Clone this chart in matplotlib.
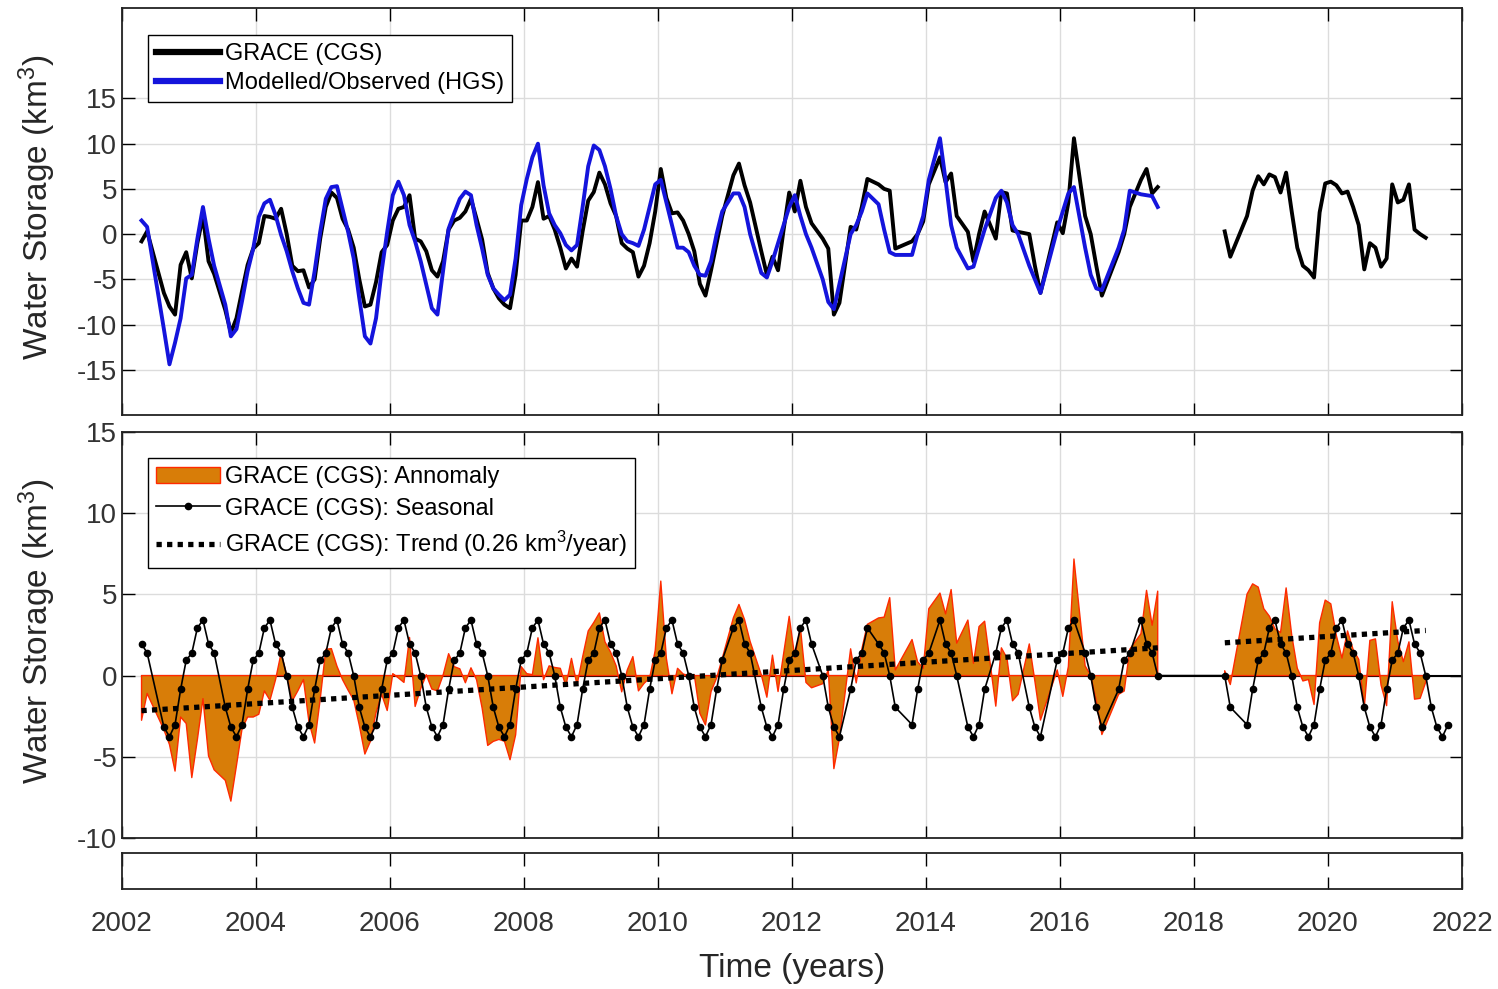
import numpy as np
import matplotlib
matplotlib.use("Agg")
import matplotlib.pyplot as plt

plt.rcParams['font.family'] = ['Liberation Sans', 'DejaVu Sans']
plt.rcParams['mathtext.default'] = 'regular'
plt.rcParams['axes.unicode_minus'] = False

nan = np.nan

# GRACE (CGS) monthly storage, km3, rows = years, cols = Jan..Dec (nan = no data)
years_a = np.arange(2002, 2018)
grace_a = [
    [nan, nan, nan, -0.8, 0.3, nan, nan, -6.5, -8.0, -8.9, -3.4, -2.0],   # 2002
    [-4.9, -1.0, 2.0, -3.0, -4.4, nan, -8.4, -10.9, -9.3, -6.3, -3.4, -1.6],
    [-1.0, 2.0, 1.9, 1.7, 2.8, 0.0, -3.5, -4.1, -4.0, -5.9, -5.0, -0.5],
    [3.0, 4.6, 4.0, 1.7, 0.5, -1.5, -5.0, -8.0, -7.8, -5.3, -2.0, -1.2],
    [1.5, 2.8, 3.0, 4.3, -0.5, -0.8, -1.9, -4.0, -4.7, -3.0, 0.5, 1.5],
    [1.8, 2.5, 3.9, 1.7, -0.6, -4.3, -6.0, -7.1, -7.8, -8.2, -4.5, 1.5],
    [1.5, 3.0, 5.75, 1.7, 2.0, 0.5, -1.5, -3.8, -2.7, -3.6, 0.3, 3.7],
    [4.65, 6.8, 5.5, 3.4, 2.0, -1.0, -1.6, -2.0, -4.7, -3.5, -1.0, 2.5],
    [7.2, 4.0, 2.3, 2.4, 1.5, 0.0, -1.9, -5.5, -6.8, -4.0, -1.0, 2.0],
    [nan, 6.5, 7.8, 5.4, 3.5, nan, -1.9, -4.5, -2.5, -4.0, 0.5, 4.6],
    [2.5, 5.9, 3.0, 1.2, nan, -0.5, -1.6, -8.9, -7.6, nan, 0.8, 0.5],
    [3.0, 6.1, nan, 5.5, 5.0, 4.8, -1.6, nan, nan, -0.8, 0.0, 1.4],
    [5.5, nan, 8.5, 5.75, 6.7, 2.0, nan, 0.25, -3.0, 0.0, 2.5, nan],
    [-0.5, 4.65, 4.5, 0.4, 0.25, nan, 0.0, -3.5, -6.5, nan, nan, 1.3],
    [0.1, 3.5, 10.6, nan, 2.0, 0.0, -3.5, -6.8, nan, nan, -2.0, 0.0],
    [3.0, nan, 6.0, 7.2, 4.5, 5.2, nan, nan, nan, nan, nan, nan],     # 2017
]
hgs_a = [
    [nan, nan, nan, 1.5, 0.8, nan, nan, -10.5, -14.4, -12.0, -9.3, -4.9],
    [-4.5, -0.5, 3.0, -0.5, -3.5, nan, -7.8, -11.3, -10.5, -7.4, -4.1, -1.6],
    [1.9, 3.4, 3.8, 2.1, -0.1, -1.9, -4.1, -6.0, -7.6, -7.8, -4.1, 0.25],
    [3.9, 5.2, 5.3, 2.8, 0.25, -2.7, -7.1, -11.3, -12.1, -9.3, -4.1, 0.25],
    [4.3, 5.8, 4.3, 1.0, -0.8, -3.0, -5.6, -8.2, -8.9, -4.1, 0.6, 2.3],
    [3.9, 4.7, 4.3, 1.0, -1.6, -4.5, -6.0, -6.7, -7.3, -6.7, -2.7, 3.2],
    [6.1, 8.5, 10.0, 5.4, 2.3, 1.0, 0.1, -1.2, -1.8, -1.2, 3.0, 7.5],
    [9.8, 9.3, 7.5, 5.0, 2.0, 0.0, -0.8, -1.0, -1.3, 0.5, 3.0, 5.5],
    [6.0, 3.5, 1.0, -1.5, -1.5, -2.0, -3.5, -4.5, -4.6, -3.0, 0.0, 2.5],
    [nan, 4.5, 4.5, 3.0, 0.0, nan, -4.3, -4.8, -3.0, -1.0, 1.0, 3.0],
    [4.3, 2.0, 0.0, -1.5, nan, -5.0, -7.5, -8.3, -5.5, nan, 0.0, 1.0],
    [2.5, 4.5, nan, 3.3, 0.5, -2.0, -2.3, nan, nan, -2.3, 0.0, 2.0],
    [6.0, nan, 10.6, 6.0, 1.0, -1.5, nan, -3.8, -3.6, -1.5, 0.5, nan],
    [4.0, 4.8, 3.5, 1.0, 0.0, nan, -3.5, -5.0, -6.5, nan, nan, 0.5],
    [2.5, 4.5, 5.2, nan, -1.5, -4.5, -6.0, -6.2, nan, nan, -1.5, 0.5],
    [4.8, nan, 4.4, 4.3, 4.2, 3.0, nan, nan, nan, nan, nan, nan],
]
years_b = np.arange(2018, 2022)
grace_b = [
    [nan, nan, nan, nan, nan, 0.3, -2.5, nan, nan, 2.0, 4.8, 6.4],
    [5.5, 6.6, 6.3, 4.6, 6.8, 2.5, -1.5, -3.5, -4.0, -4.8, 2.4, 5.6],
    [5.8, 5.4, 4.5, 4.7, 3.0, 1.0, -3.9, -1.0, -1.5, -3.6, -2.7, 5.5],
    [3.5, 3.8, 5.5, 0.5, 0.0, -0.4, nan, nan, nan, nan, nan, nan],
]

# mean seasonal cycle (Jan..Dec) and months where only the seasonal is shown
seasonal_cycle = [1.38, 2.94, 3.42, 1.95, 1.40, 0.0, -1.95, -3.17, -3.76, -3.02, -0.85, 0.95]
seasonal_tail = [(2021, 7), (2021, 8), (2021, 9), (2021, 10)]

# linear trend (0.26 km3/year), drawn for both missions
trend_t = [2002.29, 2017.46, nan, 2018.46, 2021.46]
trend_v = [-2.16, 1.71, nan, 2.02, 2.78]


def to_series(years, table):
    yy, mm = np.meshgrid(years, np.arange(1, 13), indexing='ij')
    t = (yy + (mm - 0.5) / 12).ravel()
    v = np.asarray(table, float).ravel()
    m = mm.ravel()
    ok = ~np.isnan(v)
    return t[ok], v[ok], m[ok]


def gap_break(t, v, gap=0.5):
    # put a nan in every data gap longer than half a year
    idx = np.where(np.diff(t) > gap)[0] + 1
    return np.insert(t, idx, nan), np.insert(v, idx, nan)


ta, va, ma = to_series(years_a, grace_a)
tb, vb, mb = to_series(years_b, grace_b)
t_g = np.concatenate([ta, tb])
v_g = np.concatenate([va, vb])
m_g = np.concatenate([ma, mb])
t_h, v_h, _ = to_series(years_a, hgs_a)

cycle = np.array(seasonal_cycle)
t_s = np.concatenate([t_g, [y + (m - 0.5) / 12 for y, m in seasonal_tail]])
m_s = np.concatenate([m_g, [m for _, m in seasonal_tail]])
v_s = cycle[m_s - 1]
anom = v_g - cycle[m_g - 1]

W, H = 1498, 989
fig = plt.figure(figsize=(W / 100, H / 100), dpi=100)


def box(x0, y0, x1, y1):
    return [x0 / W, 1 - y1 / H, (x1 - x0) / W, (y1 - y0) / H]


ax1 = fig.add_axes(box(122, 8, 1462, 415))
ax2 = fig.add_axes(box(122, 432, 1462, 838))
ax3 = fig.add_axes(box(122, 853, 1462, 889))

tick_col = '#333333'
xt = np.arange(2002, 2023, 2)
for ax in (ax1, ax2, ax3):
    ax.set_xlim(2002, 2022)
    ax.set_xticks(xt)
    ax.tick_params(direction='in', length=9, width=1, top=True, right=True,
                   labelsize=20, colors='black', labelcolor=tick_col)
    for s in ax.spines.values():
        s.set_linewidth(1.3)
        s.set_color('#222222')
for ax in (ax1, ax2):
    ax.grid(True, color='#dcdcdc', lw=1)
    ax.set_axisbelow(True)
    ax.tick_params(labelbottom=False)

leg_kw = dict(loc='upper left', fontsize=17, fancybox=False, edgecolor='black',
              framealpha=1, borderaxespad=0, handlelength=2.7,
              handletextpad=0.2, borderpad=0.35)

# ---- top panel
x, y = gap_break(t_g, v_g)
ax1.plot(x, y, color='black', lw=2.8, label='GRACE (CGS)')
ax1.plot(t_h, v_h, color='#1414DC', lw=2.8, label='Modelled/Observed (HGS)')
ax1.set_ylim(-20, 25)
ax1.set_yticks(np.arange(-15, 16, 5))
leg1 = ax1.legend(bbox_to_anchor=(0.0194, 0.934), labelspacing=0.3, **leg_kw)
for ln in leg1.get_lines():
    ln.set_linewidth(4.5)

# ---- bottom panel
ax2.plot([t_s[0], 2022], [0, 0], color='black', lw=1.5, zorder=2)
xa, ya = gap_break(t_g, anom)
ax2.fill_between(xa, ya, 0, facecolor='#D87D08', edgecolor='#FF2A00', lw=1,
                 zorder=3, label='GRACE (CGS): Annomaly')
ax2.plot(t_s, v_s, color='black', lw=1.2, marker='o', ms=4.5, zorder=4,
         label='GRACE (CGS): Seasonal')
ax2.plot(trend_t, trend_v, color='black', lw=3.8, ls=(0, (1, 1)), zorder=5,
         label='GRACE (CGS): Trend (0.26 km$^3$/year)')
ax2.set_ylim(-10, 15)
ax2.set_yticks(np.arange(-10, 16, 5))
ax2.legend(bbox_to_anchor=(0.0194, 0.936), labelspacing=0.4, **leg_kw)

# ---- strip axis with the time ticks
ax3.set_yticks([])
ax3.set_ylim(0, 1)
ax3.tick_params(axis='x', pad=16)

for ax in (ax1, ax2):
    ax.text(-0.063, 0.51, 'Water Storage (km$^3$)', transform=ax.transAxes,
            rotation=90, ha='center', va='center', fontsize=24, color='#262626')
fig.text(792 / W, 1 - 968 / H, 'Time (years)', ha='center', va='center',
         fontsize=24, color='#262626')

fig.savefig('out.png', dpi=100)
